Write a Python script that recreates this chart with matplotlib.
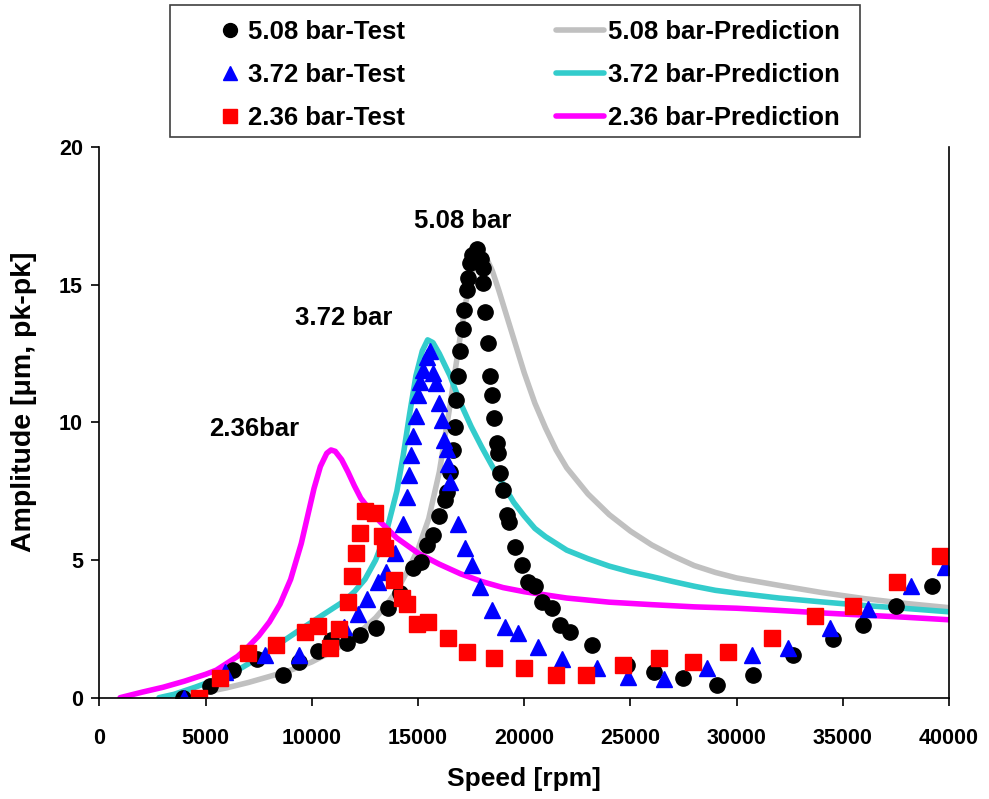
import matplotlib
matplotlib.use('Agg')
import matplotlib.pyplot as plt
from matplotlib.lines import Line2D
from matplotlib.patches import Rectangle

plt.rcParams['font.family'] = ['Liberation Sans', 'DejaVu Sans']
plt.rcParams['font.weight'] = 'bold'

# test data, 5.08 bar (black circles)
test_508_rpm = [3930, 5200, 6290, 7420, 8640, 9400, 10290, 10900, 11650, 12270, 13000, 13590,
                14150, 14770, 15150, 15420, 15700, 15990, 16270, 16370, 16510, 16650, 16740,
                16800, 16900, 16990, 17120, 17170, 17290, 17360, 17460, 17550, 17780, 17950,
                18050, 18060, 18150, 18300, 18390, 18490, 18580, 18720, 18770, 18860, 19010,
                19200, 19290, 19570, 19900, 20180, 20510, 20840, 21310, 21690, 22160, 23200,
                24850, 26120, 27480, 29080, 30780, 32660, 34550, 35970, 37520, 39210]
test_508_amp = [0.0, 0.43, 1.0, 1.4, 0.82, 1.3, 1.7, 2.1, 2.0, 2.28, 2.53, 3.25,
                3.82, 4.72, 4.93, 5.55, 5.9, 6.6, 7.17, 7.47, 8.2, 9.0, 9.85,
                10.8, 11.7, 12.6, 13.4, 14.1, 14.8, 15.25, 15.8, 16.1, 16.3, 15.95,
                15.6, 15.05, 14.0, 12.9, 11.7, 11.0, 10.15, 9.25, 8.9, 8.15, 7.54,
                6.63, 6.38, 5.47, 4.82, 4.2, 4.05, 3.47, 3.25, 2.64, 2.39, 1.91,
                1.19, 0.93, 0.72, 0.46, 0.82, 1.55, 2.13, 2.64, 3.33, 4.04]

# test data, 3.72 bar (blue triangles)
test_372_rpm = [4000, 5900, 7800, 9400, 11520, 12170, 12600, 13120, 13500, 13920, 14300, 14490,
                14580, 14680, 14770, 14910, 15000, 15100, 15240, 15420, 15570, 15700, 15850,
                15990, 16130, 16230, 16370, 16420, 16510, 16890, 17220, 17550, 17920, 18490,
                19100, 19710, 20650, 21780, 23430, 24900, 26560, 28620, 30730, 32430, 34410,
                36190, 38220, 39800]
test_372_amp = [0.0, 0.93, 1.55, 1.55, 2.57, 3.03, 3.57, 4.2, 4.57, 5.25, 6.3, 7.3,
                8.1, 8.8, 9.5, 10.25, 11.0, 11.46, 11.9, 12.37, 12.6, 11.8, 11.45,
                10.7, 10.1, 9.35, 9.05, 8.5, 7.83, 6.3, 5.43, 4.82, 4.02, 3.19,
                2.57, 2.35, 1.84, 1.4, 1.08, 0.75, 0.68, 1.08, 1.55, 1.8, 2.53,
                3.22, 4.05, 4.75]

# test data, 2.36 bar (red squares)
test_236_rpm = [4690, 5680, 7000, 8310, 9680, 10280, 10870, 11290, 11680, 11890, 12090, 12270,
                12500, 12990, 13280, 13450, 13870, 14250, 14470, 14930, 15470, 16420, 17310,
                18580, 20000, 21500, 22930, 24630, 26330, 27930, 29600, 31680, 33700, 35490,
                37570, 39590]
test_236_amp = [0.0, 0.72, 1.62, 1.9, 2.39, 2.62, 1.8, 2.51, 3.47, 4.43, 5.25, 5.97,
                6.77, 6.7, 5.88, 5.43, 4.27, 3.62, 3.4, 2.66, 2.74, 2.17, 1.66,
                1.44, 1.08, 0.82, 0.82, 1.19, 1.44, 1.3, 1.66, 2.17, 2.97, 3.33,
                4.2, 5.14]

# predictions
pred_508_rpm = [3000, 4000, 5000, 6000, 7000, 8000, 9000, 10000, 11000, 12000, 13000, 13500,
                14000, 14500, 15000, 15500, 16000, 16500, 17000, 17300, 17600, 17900, 18200,
                18500, 18800, 19200, 19600, 20000, 20500, 21000, 21500, 22000, 23000, 24000,
                25000, 26000, 27000, 28000, 29000, 30000, 32000, 34000, 36000, 38000, 40000]
pred_508_amp = [0.0, 0.08, 0.2, 0.36, 0.55, 0.77, 1.0, 1.3, 1.7, 2.2, 2.9, 3.35,
                3.9, 4.6, 5.4, 6.5, 8.2, 10.6, 13.2, 14.6, 15.6, 16.1, 16.0,
                15.5, 14.8, 13.8, 12.8, 11.8, 10.7, 9.8, 9.0, 8.35, 7.4, 6.65,
                6.05, 5.55, 5.15, 4.8, 4.55, 4.35, 4.08, 3.82, 3.6, 3.42, 3.27]

pred_372_rpm = [2800, 3500, 4500, 5500, 6500, 7500, 8500, 9500, 10500, 11500, 12000, 12500,
                13000, 13500, 14000, 14300, 14600, 14900, 15200, 15450, 15700, 16000, 16500,
                17000, 17500, 18000, 18500, 19000, 19500, 20000, 20500, 21000, 22000, 23000,
                24000, 25000, 26000, 27000, 28000, 29000, 30000, 32000, 34000, 36000, 38000,
                40000]
pred_372_amp = [0.0, 0.12, 0.38, 0.66, 1.0, 1.45, 1.98, 2.5, 3.0, 3.5, 3.85, 4.3,
                5.0, 6.0, 7.5, 8.8, 10.3, 11.7, 12.6, 13.0, 12.9, 12.5, 11.7,
                10.7, 9.85, 9.1, 8.4, 7.75, 7.1, 6.6, 6.15, 5.85, 5.36, 5.05,
                4.78, 4.57, 4.4, 4.22, 4.05, 3.9, 3.8, 3.62, 3.48, 3.35, 3.24,
                3.12]

pred_236_rpm = [970, 2000, 3000, 4000, 5000, 5500, 6000, 6500, 7000, 7500, 8000, 8500,
                9000, 9500, 9800, 10100, 10400, 10700, 10900, 11100, 11400, 11700, 12000,
                12300, 12700, 13200, 14000, 15000, 16000, 17000, 18000, 19000, 20000, 22000,
                24000, 26000, 28000, 30000, 32000, 34000, 36000, 38000, 40000]
pred_236_amp = [0.0, 0.2, 0.38, 0.6, 0.85, 1.0, 1.25, 1.5, 1.85, 2.25, 2.75, 3.4,
                4.3, 5.6, 6.6, 7.6, 8.4, 8.88, 9.0, 8.95, 8.65, 8.2, 7.7,
                7.25, 6.85, 6.4, 5.8, 5.25, 4.85, 4.5, 4.22, 4.0, 3.85, 3.62,
                3.47, 3.38, 3.3, 3.25, 3.17, 3.08, 3.0, 2.92, 2.83]

test_labels = ['5.08 bar-Test', '3.72 bar-Test', '2.36 bar-Test']
pred_labels = ['5.08 bar-Prediction', '3.72 bar-Prediction', '2.36 bar-Prediction']

fig = plt.figure(figsize=(9.89, 7.99), dpi=100)
ax = fig.add_axes([0.1006, 0.1268, 0.859, 0.689])

# lines go under the markers
l1, = ax.plot(pred_508_rpm, pred_508_amp, color='#c0c0c0', lw=4, solid_capstyle='round')
l2, = ax.plot(pred_372_rpm, pred_372_amp, color='#33cccc', lw=4, solid_capstyle='round')
l3, = ax.plot(pred_236_rpm, pred_236_amp, color='#ff00ff', lw=4, solid_capstyle='round')

ax.plot(test_508_rpm, test_508_amp, 'o', color='black', ms=11, ls='none')
ax.plot(test_372_rpm, test_372_amp, '^', color='#0000ff', ms=12, ls='none')
ax.plot(test_236_rpm, test_236_amp, 's', color='#ff0000', ms=11, ls='none')

ax.set_xlim(0, 40000)
ax.set_ylim(0, 20)
ax.set_xticks(range(0, 40001, 5000))
ax.set_yticks([0, 5, 10, 15, 20])
ax.tick_params(axis='both', direction='out', length=6, width=1.2, labelsize=15.5)
ax.tick_params(axis='x', pad=16)
ax.tick_params(axis='y', pad=6)
ax.spines['top'].set_visible(False)
for s in ['left', 'bottom', 'right']:
    ax.spines[s].set_linewidth(1.2)

ax.set_xlabel('Speed [rpm]', fontsize=19, fontweight='bold', labelpad=13)
ax.set_ylabel('Amplitude [\u03bcm, pk-pk]', fontsize=20.5, fontweight='bold')
ax.yaxis.set_label_coords(-0.074, 0.537)

ax.text(17120, 17.3, '5.08 bar', ha='center', va='center', fontsize=18.5, fontweight='bold')
ax.text(11520, 13.8, '3.72 bar', ha='center', va='center', fontsize=18.5, fontweight='bold')
ax.text(7280, 9.76, '2.36bar', ha='center', va='center', fontsize=18.5, fontweight='bold')

# legend: frame drawn by hand, two frameless legends inside (markers / lines)
fig.patches.append(Rectangle((0.1719, 0.8285), 0.6977, 0.1652, transform=fig.transFigure,
                             facecolor='white', edgecolor='#404040', lw=1.2, zorder=0))
mh1 = Line2D([], [], marker='o', color='black', ms=10, ls='none')
mh2 = Line2D([], [], marker='^', color='#0000ff', ms=10, ls='none')
mh3 = Line2D([], [], marker='s', color='#ff0000', ms=10, ls='none')
leg1 = fig.legend([mh1, mh2, mh3], test_labels, loc='upper left',
                  bbox_to_anchor=(0.2194, 0.9755), fontsize=18.5, frameon=False,
                  labelspacing=0.74, handlelength=1.0, handletextpad=0.2, borderpad=0,
                  borderaxespad=0)
leg2 = fig.legend([l1, l2, l3], pred_labels, loc='upper left',
                  bbox_to_anchor=(0.5622, 0.9755), fontsize=18.5, frameon=False,
                  labelspacing=0.74, handlelength=1.87, handletextpad=0.16, borderpad=0,
                  borderaxespad=0)

plt.savefig('out.png', dpi=100)
